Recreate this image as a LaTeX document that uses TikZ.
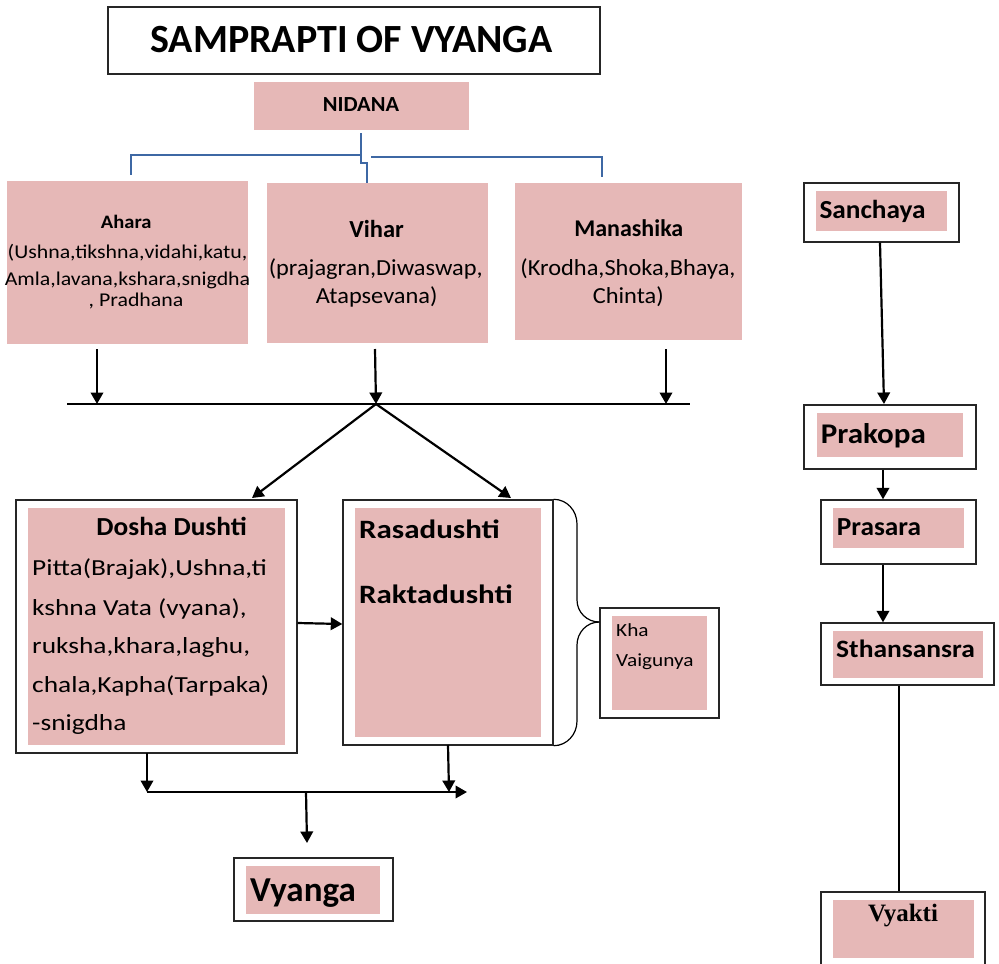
\documentclass[tikz,border=0pt]{standalone}
\usepackage{fontspec}
\setmainfont{Carlito}
\newfontfamily\serifbold{Liberation Serif}
\usetikzlibrary{arrows.meta}
\definecolor{rosefill}{RGB}{230,184,183}
\definecolor{linkblue}{RGB}{62,104,164}
% size in px (1pt = 1px here) and horizontal stretch
\newcommand\fsz[2]{\fontsize{#1}{#1}\selectfont\addfontfeatures{FakeStretch=#2}}
\tikzset{
  pinkbox/.style={fill=rosefill, draw=none, inner sep=0pt},
  framebox/.style={draw=black!85, line width=1.4pt, fill=white, inner sep=0pt},
  txt/.style={inner sep=0pt, anchor=base},
  txtl/.style={inner sep=0pt, anchor=base west},
  arr/.style={line width=2.2pt, -{Triangle[length=11.5pt,width=12.5pt]}},
  thinline/.style={line width=1.2pt},
  bluelink/.style={draw=linkblue, line width=2.8pt},
}
\begin{document}
\begin{tikzpicture}[x=1pt,y=-1pt]
\useasboundingbox (0,0) rectangle (999,964);
\clip (0,0) rectangle (999,964);

% ---- title and cause ----
\node[framebox, line width=1.8pt, minimum width=492pt, minimum height=67pt] (title) at (354,40.5) {};
\node[txt, font=\bfseries\fsz{40}{1}] (titletxt) at (351.5,52) {SAMPRAPTI OF VYANGA};

\node[pinkbox, minimum width=215pt, minimum height=48pt] (nidana) at (361.5,106) {};
\node[txt, font=\bfseries\fsz{21.5}{1.04}] (nidanatxt) at (361,111.7) {NIDANA};

% ---- three causes ----
\node[pinkbox, minimum width=241pt, minimum height=163pt] (ahara) at (127.5,262.5) {};
\node[txt, font=\bfseries\fsz{19}{1.08}] (ahara0) at (126.2,228) {Ahara};
\node[txt, font=\fsz{19.5}{1.12}] (ahara1) at (127.5,258) {(Ushna,tikshna,vidahi,katu,};
\node[txt, font=\fsz{19.5}{1.12}] (ahara2) at (127.5,285) {Amla,lavana,kshara,snigdha};
\node[txt, font=\fsz{19.5}{1.12}] (ahara3) at (136,306) {, Pradhana};

\node[pinkbox, minimum width=221pt, minimum height=160pt] (vihar) at (377.5,263) {};
\node[txt, font=\bfseries\fsz{24.5}{1}] (vihar0) at (376.7,237.7) {Vihar};
\node[txt, font=\fsz{23}{1.06}] (vihar1) at (375.8,275) {(prajagran,Diwaswap,};
\node[txt, font=\fsz{23}{1.06}] (vihar2) at (376.7,303.3) {Atapsevana)};

\node[pinkbox, minimum width=227pt, minimum height=157pt] (manas) at (628.5,261.5) {};
\node[txt, font=\bfseries\fsz{24}{1}] (manas0) at (628.8,236.7) {Manashika};
\node[txt, font=\fsz{23}{1.06}] (manas1) at (628,275) {(Krodha,Shoka,Bhaya,};
\node[txt, font=\fsz{23}{1.06}] (manas2) at (628.3,303.3) {Chinta)};

% blue bracket from NIDANA
\coordinate (nA) at (361,133);
\coordinate (nB) at (361,163);
\coordinate (nC) at (367,163);
\coordinate (nD) at (367,183);
\coordinate (bl1) at (361,155);
\coordinate (bl2) at (131,155);
\coordinate (bl3) at (131,175);
\coordinate (br1) at (371,157);
\coordinate (br2) at (602,157);
\coordinate (br3) at (602,177);
\draw[bluelink] (nA) -- (nB) -- (nC) -- (nD);
\draw[bluelink] (bl1) -- (bl2) -- (bl3);
\draw[bluelink] (br1) -- (br2) -- (br3);

% collector line
\coordinate (busL) at (67,404);
\coordinate (busR) at (690,404);
\coordinate (busM) at (376,404);
\draw[line width=1.5pt] (busL) -- (busR);
\draw[arr] (97,349) -- (97,404);
\draw[arr] (375,349) -- (busM);
\draw[arr] (666,349) -- (666,404);

% ---- dushti ----
\node[framebox, minimum width=281pt, minimum height=253pt] (doshaO) at (156.5,626.5) {};
\node[pinkbox, minimum width=257pt, minimum height=237pt] (dosha) at (156.5,626.5) {};
\node[txt, font=\bfseries\fsz{26}{1.05}] (dosha0) at (171.6,535) {Dosha Dushti};
\node[txtl, font=\fsz{23}{1.19}] (dosha1) at (32,575) {Pitta(Brajak),Ushna,ti};
\node[txtl, font=\fsz{23}{1.19}] (dosha2) at (32,615) {kshna Vata (vyana),};
\node[txtl, font=\fsz{23}{1.19}] (dosha3) at (32,653) {ruksha,khara,laghu,};
\node[txtl, font=\fsz{23}{1.19}] (dosha4) at (32,692) {chala,Kapha(Tarpaka)};
\node[txtl, font=\fsz{23}{1.19}] (dosha5) at (32,730) {-snigdha};

\node[framebox, minimum width=210pt, minimum height=245pt] (rasaO) at (448,622.5) {};
\node[pinkbox, minimum width=186pt, minimum height=229pt] (rasa) at (448,622.5) {};
\node[txtl, font=\bfseries\fsz{26.5}{1.17}] (rasa1) at (359,538.3) {Rasadushti};
\node[txtl, font=\bfseries\fsz{26.5}{1.17}] (rasa2) at (359,603.3) {Raktadushti};

\node[framebox, minimum width=119pt, minimum height=110pt] (khaO) at (659.5,663) {};
\node[pinkbox, minimum width=95pt, minimum height=94pt] (kha) at (659.5,663) {};
\node[txtl, font=\fsz{18.5}{1.15}] (kha1) at (616,636.7) {Kha};
\node[txtl, font=\fsz{18.5}{1.15}] (kha2) at (616,666.7) {Vaigunya};

% brace joining the dushti box to Kha Vaigunya
\draw[line width=1.2pt] (rasaO.north east) to[out=0,in=90] (577,524) -- (577,600)
  to[out=-90,in=180] (khaO.west |- 0,622);
\draw[line width=1.2pt] (khaO.west |- 0,622) to[out=180,in=90] (577,645) -- (577,721)
  to[out=-90,in=0] (rasaO.south east);

\draw[arr] (busM) -- (252,498);
\draw[arr] (busM) -- (511,498);
\draw[arr] (doshaO.east |- 0,623) -- (rasaO.west |- 0,624);

% ---- outcome ----
\coordinate (lowL) at (147,792);
\coordinate (lowR) at (467,792);
\coordinate (lowM) at (306,792);
\draw[arr] (147,753) -- (lowL);
\draw[arr] (448,745) -- (449,792);
\draw[arr] (lowL) -- (lowR);
\draw[arr] (lowM) -- (307,843);

\node[framebox, minimum width=159pt, minimum height=63pt] (vyangaO) at (313.5,889.5) {};
\node[pinkbox, minimum width=134pt, minimum height=48pt] (vyanga) at (313,890) {};
\node[txtl, font=\bfseries\fsz{35}{1}] (vyangatxt) at (250,901.7) {Vyanga};

% ---- stages (kriyakala) ----
\node[framebox, minimum width=155pt, minimum height=59pt] (sanchO) at (881.5,212.5) {};
\node[pinkbox, minimum width=131pt, minimum height=40pt] (sanch) at (881.5,211) {};
\node[txtl, font=\bfseries\fsz{26}{1.05}] (sanchtxt) at (819.3,218.3) {Sanchaya};

\node[framebox, minimum width=172pt, minimum height=64pt] (prakO) at (890,437) {};
\node[pinkbox, minimum width=146pt, minimum height=44pt] (prak) at (890,435) {};
\node[txtl, font=\bfseries\fsz{28.5}{1.09}] (praktxt) at (820.7,443.3) {Prakopa};

\node[framebox, minimum width=155pt, minimum height=64pt] (prasO) at (898.5,532) {};
\node[pinkbox, minimum width=131pt, minimum height=40pt] (pras) at (898.5,528) {};
\node[txtl, font=\bfseries\fsz{26}{1.05}] (prastxt) at (836.7,535) {Prasara};

\node[framebox, minimum width=173pt, minimum height=62pt] (sthanO) at (907.5,654) {};
\node[pinkbox, minimum width=150pt, minimum height=47pt] (sthan) at (908,654.5) {};
\node[txtl, font=\bfseries\fsz{25}{1.1}] (sthantxt) at (836,657.3) {Sthansansra};

\node[framebox, minimum width=164pt, minimum height=83pt] (vyakO) at (903,933.5) {};
\node[pinkbox, minimum width=141pt, minimum height=58pt] (vyak) at (903.5,929) {};
\node[txt, font=\serifbold\bfseries\fontsize{25}{25}\selectfont] (vyaktxt) at (903,921.7) {Vyakti};

\draw[arr] (sanchO.south -| 880,0) -- (884,404);
\draw[arr] (prakO.south -| 883,0) -- (prasO.north -| 883,0);
\draw[arr] (prasO.south -| 883,0) -- (sthanO.north -| 883,0);
\draw[thinline] (sthanO.south -| 899,0) -- (vyakO.north -| 899,0);

\end{tikzpicture}
\end{document}
